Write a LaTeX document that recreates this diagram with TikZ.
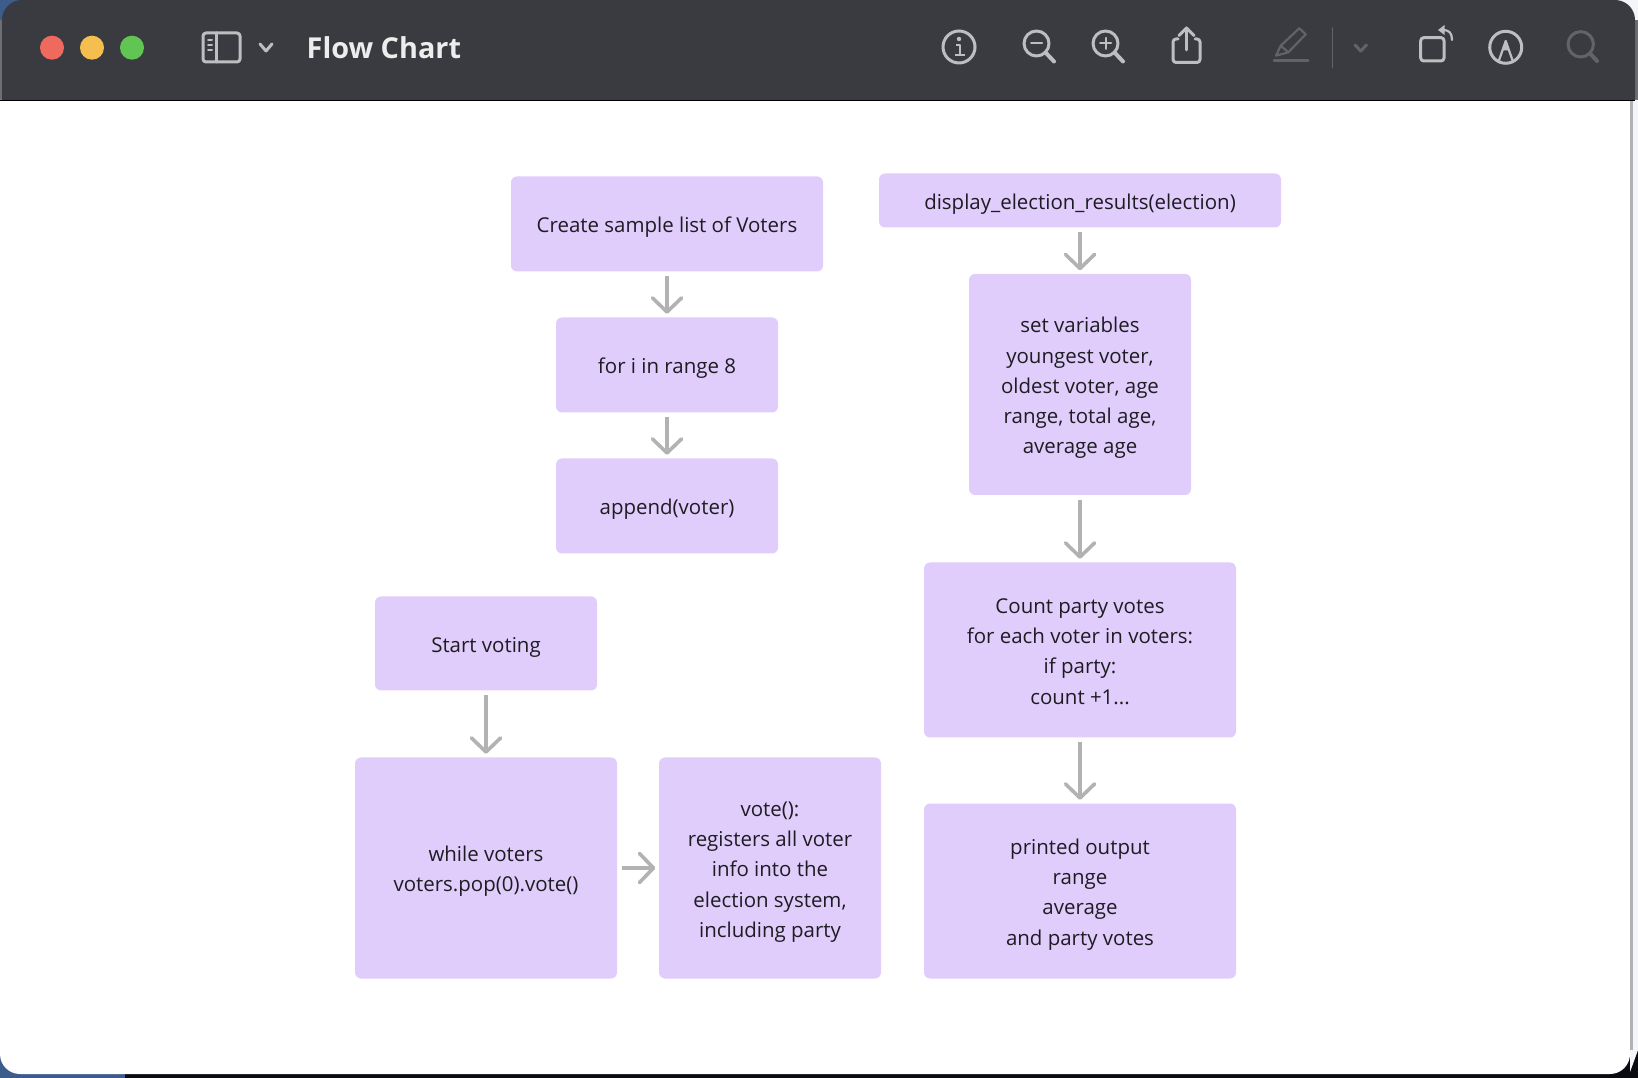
\documentclass[tikz,border=0pt]{standalone}
\usepackage{fontspec}
\setmainfont{Open Sans}
\usetikzlibrary{arrows.meta}
\definecolor{stepfill}{RGB}{224,205,251}
\definecolor{steptext}{RGB}{30,28,34}
\definecolor{arrowgray}{RGB}{178,178,178}
\definecolor{barcolor}{RGB}{58,59,64}
\definecolor{iconlight}{RGB}{190,190,192}
\definecolor{icondim}{RGB}{98,99,103}
\definecolor{wallblue}{RGB}{60,92,140}
\definecolor{edgedark}{RGB}{10,11,16}
\definecolor{edgelight}{RGB}{244,245,248}
\definecolor{edgegray}{RGB}{108,110,116}
\definecolor{closered}{RGB}{238,106,95}
\definecolor{minyellow}{RGB}{245,191,79}
\definecolor{zoomgreen}{RGB}{97,197,84}
\newcommand{\firstline}{\rule{0pt}{6.5pt}}
\tikzset{
    stepbox/.style={fill=stepfill, rounded corners=0.06cm, inner sep=0, align=center, text=steptext,
        font=\fontsize{5.82}{8.6}\selectfont,
        execute at begin node={\rule[-1.5pt]{0pt}{8pt}}},
    flowarrow/.style={draw=arrowgray, line width=0.036cm, shorten <=0.04cm, shorten >=0.03cm,
        -{Straight Barb[round, length=0.14cm, width=0.29cm]}},
    iconbright/.style={draw=iconlight, line width=0.03cm, line cap=round, line join=round},
    iconfaint/.style={draw=icondim, line width=0.03cm, line cap=round, line join=round}
}
\begin{document}
\begin{tikzpicture}[x=1cm, y=-1cm]
    \useasboundingbox (0, 0) rectangle (16.38, 10.78);

    % behind the window
    \fill[edgedark] (0, 0) rectangle (16.38, 10.78);
    \fill[wallblue] (0, 10) rectangle (1.25, 10.78);
    \fill[wallblue] (0, 0) rectangle (0.5, 0.5);
    \fill[edgelight] (15.9, 0) rectangle (16.38, 0.5);
    \fill[edgegray] (0, 0.2) rectangle (0.1, 1);
    \fill[edgegray] (16.2, 0.2) rectangle (16.38, 1);
    \fill[edgelight] (16.3, 1) -- (16.38, 1) -- (16.38, 10.5) -- (16.3, 10.72) -- cycle;

    % window
    \fill[white] (0, 1) -- (16.3, 1) -- (16.3, 10.54) arc[radius=0.2, start angle=0, end angle=90]
        -- (0.2, 10.74) arc[radius=0.2, start angle=90, end angle=180] -- cycle;
    \draw[arrowgray, line width=0.025cm] (16.315, 1) -- (16.315, 10.5);
    \fill[barcolor] (0.02, 1) -- (0.02, 0.2) arc[radius=0.2, start angle=180, end angle=270]
        -- (16.15, 0) arc[radius=0.2, start angle=270, end angle=360] -- (16.35, 1) -- cycle;
    \draw[black, line width=0.012cm] (0, 1.005) -- (16.35, 1.005);

    % window buttons
    \fill[closered] (0.52, 0.477) circle (0.12);
    \fill[minyellow] (0.92, 0.477) circle (0.12);
    \fill[zoomgreen] (1.32, 0.477) circle (0.12);

    % sidebar button
    \draw[iconbright, rounded corners=0.03cm] (2.03, 0.33) rectangle (2.4, 0.62);
    \draw[iconbright] (2.165, 0.33) -- (2.165, 0.62);
    \draw[iconbright, line width=0.02cm] (2.08, 0.40) -- (2.12, 0.40);
    \draw[iconbright, line width=0.02cm] (2.08, 0.45) -- (2.12, 0.45);
    \draw[iconbright, line width=0.02cm] (2.08, 0.50) -- (2.12, 0.50);
    \draw[iconbright] (2.6, 0.44) -- (2.66, 0.51) -- (2.72, 0.44);

    \node[text=white!93!black, font=\fontsize{8.2}{9}\selectfont\bfseries, anchor=west, inner sep=0] (title) at (3.06, 0.475) {Flow Chart};

    % info
    \draw[iconbright] (9.59, 0.47) circle (0.16);
    \fill[iconlight] (9.59, 0.39) circle (0.022);
    \draw[iconbright, line width=0.02cm, line cap=butt] (9.56, 0.45) -- (9.6, 0.45) -- (9.6, 0.55) (9.55, 0.55) -- (9.65, 0.55);

    % zoom out
    \draw[iconbright] (10.365, 0.435) circle (0.125);
    \draw[iconbright, line width=0.04cm] (10.455, 0.525) -- (10.54, 0.615);
    \draw[iconbright, line width=0.02cm] (10.31, 0.435) -- (10.42, 0.435);

    % zoom in
    \draw[iconbright] (11.055, 0.435) circle (0.125);
    \draw[iconbright, line width=0.04cm] (11.145, 0.525) -- (11.23, 0.615);
    \draw[iconbright, line width=0.02cm] (11, 0.435) -- (11.11, 0.435);
    \draw[iconbright, line width=0.02cm] (11.055, 0.38) -- (11.055, 0.49);

    % share
    \draw[iconbright, rounded corners=0.03cm] (11.78, 0.39) -- (11.73, 0.39) -- (11.73, 0.625) -- (12, 0.625) -- (12, 0.39) -- (11.95, 0.39);
    \draw[iconbright] (11.865, 0.5) -- (11.865, 0.28);
    \draw[iconbright] (11.79, 0.355) -- (11.865, 0.28) -- (11.94, 0.355);

    % pencil
    \draw[iconfaint, line width=0.022cm] (12.76, 0.557) -- (12.807, 0.457) -- (12.993, 0.283) -- (13.057, 0.343) -- (12.883, 0.523) -- cycle;
    \draw[iconfaint, line width=0.022cm] (12.807, 0.457) -- (12.883, 0.523);
    \draw[iconfaint] (12.74, 0.607) -- (13.08, 0.607);
    \draw[iconfaint, line width=0.015cm] (13.327, 0.28) -- (13.327, 0.677);
    \draw[iconfaint] (13.55, 0.45) -- (13.607, 0.51) -- (13.665, 0.45);

    % rotate
    \draw[iconbright, rounded corners=0.03cm] (14.207, 0.377) rectangle (14.44, 0.61);
    \draw[iconbright, line width=0.022cm] (14.52, 0.40) .. controls (14.52, 0.33) and (14.49, 0.30) .. (14.43, 0.30);
    \fill[iconlight] (14.38, 0.3) -- (14.445, 0.25) -- (14.445, 0.35) -- cycle;

    % markup
    \draw[iconbright] (15.057, 0.473) circle (0.16);
    \draw[iconbright, line width=0.022cm] (14.985, 0.617) -- (15.057, 0.41) -- (15.13, 0.617);
    \fill[iconlight] (15.057, 0.41) -- (15.02, 0.505) -- (15.095, 0.505) -- cycle;

    % search
    \draw[iconfaint] (15.807, 0.443) circle (0.127);
    \draw[iconfaint, line width=0.04cm] (15.9, 0.535) -- (15.97, 0.61);

    % left column
    \node[stepbox, minimum width=3.12cm, minimum height=0.95cm] (samplelist) at (6.67, 2.24) {\firstline Create sample list of Voters};
    \node[stepbox, minimum width=2.22cm, minimum height=0.95cm] (forrange) at (6.67, 3.65) {\firstline for i in range 8};
    \node[stepbox, minimum width=2.22cm, minimum height=0.95cm] (appendvoter) at (6.67, 5.06) {\firstline append(voter)};
    \node[stepbox, minimum width=2.22cm, minimum height=0.94cm] (startvoting) at (4.86, 6.435) {\firstline Start voting};
    \node[stepbox, minimum width=2.62cm, minimum height=2.21cm] (whilevoters) at (4.86, 8.68) {\firstline while voters\\voters.pop(0).vote()};
    \node[stepbox, minimum width=2.22cm, minimum height=2.21cm] (votecall) at (7.7, 8.68) {\firstline vote():\\registers all voter\\info into the\\election system,\\including party};

    % right column
    \node[stepbox, minimum width=4.02cm, minimum height=0.54cm] (display) at (10.8, 2.005) {\firstline display\_election\_results(election)};
    \node[stepbox, minimum width=2.22cm, minimum height=2.21cm] (setvars) at (10.8, 3.845) {\firstline set variables\\youngest voter,\\oldest voter, age\\range, total age,\\average age};
    \node[stepbox, minimum width=3.12cm, minimum height=1.75cm] (countvotes) at (10.8, 6.5) {\firstline Count party votes\\for each voter in voters:\\if party:\\count +1...};
    \node[stepbox, minimum width=3.12cm, minimum height=1.75cm] (printed) at (10.8, 8.91) {\firstline printed output\\range\\average\\and party votes};

    \draw[flowarrow] (samplelist) -- (forrange);
    \draw[flowarrow] (forrange) -- (appendvoter);
    \draw[flowarrow] (startvoting) -- (whilevoters);
    \draw[flowarrow] (whilevoters) -- (votecall);
    \draw[flowarrow] (display) -- (setvars);
    \draw[flowarrow] (setvars) -- (countvotes);
    \draw[flowarrow] (countvotes) -- (printed);
\end{tikzpicture}
\end{document}
